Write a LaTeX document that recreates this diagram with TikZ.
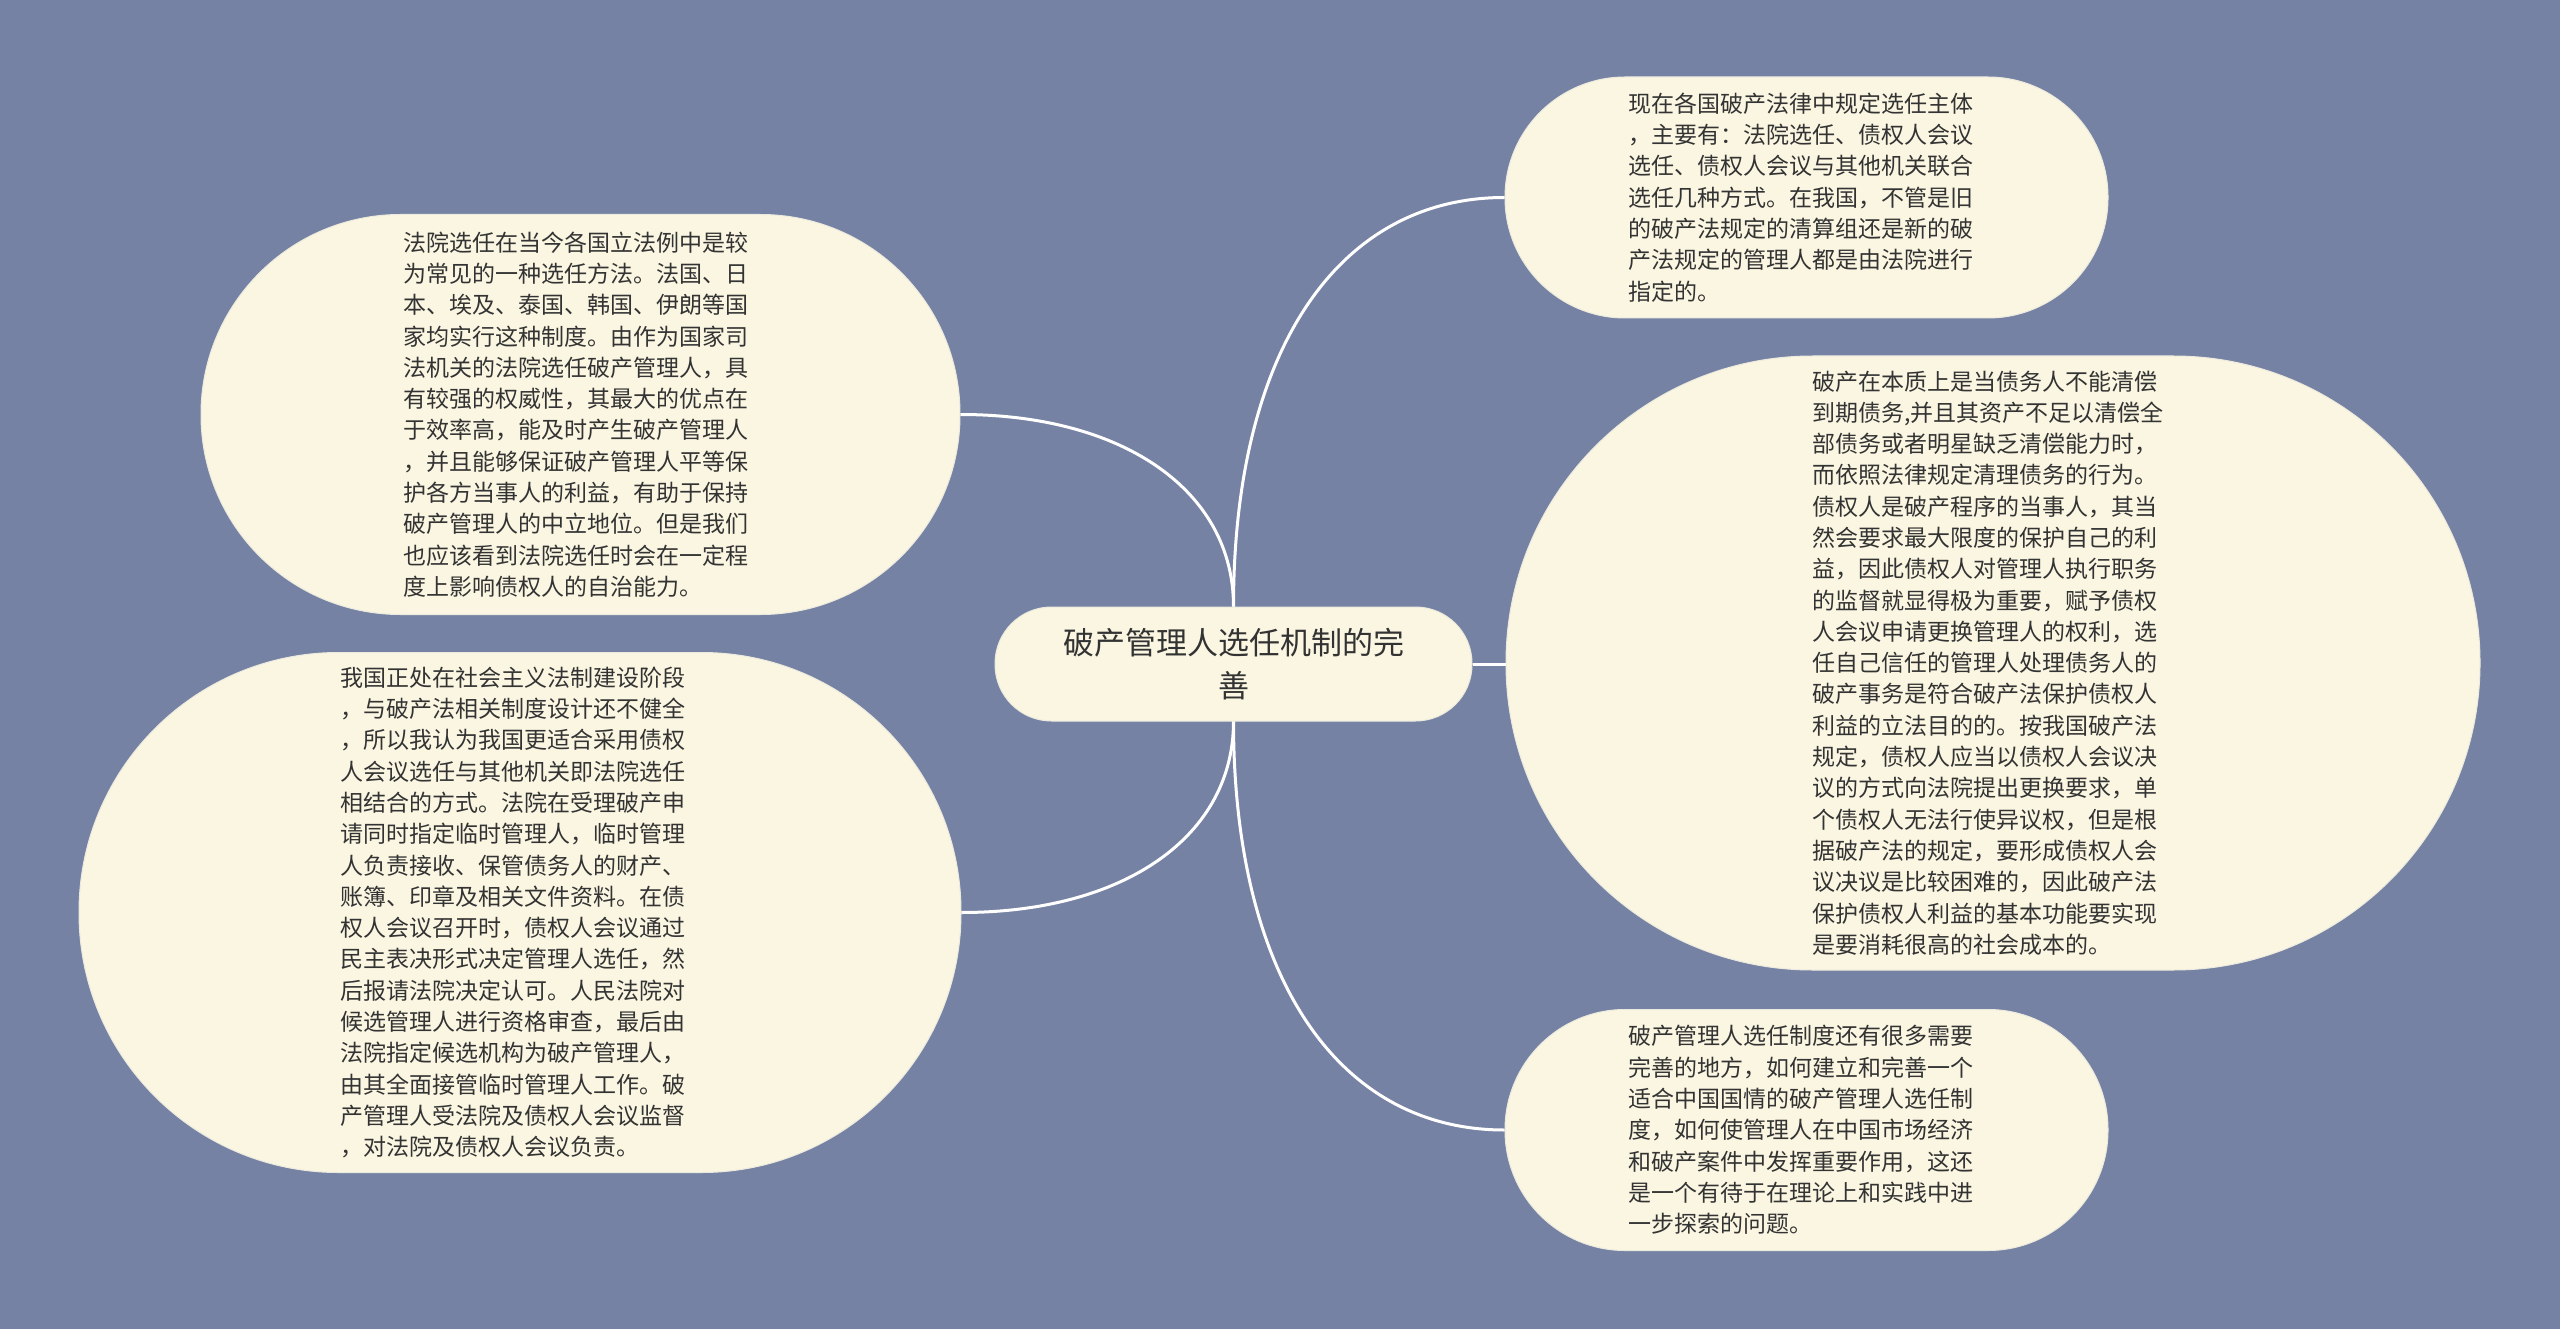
\documentclass[tikz,border=0pt]{standalone}
\usepackage{fontspec}
\setmainfont{Noto Sans CJK SC}
\usetikzlibrary{calc}
\definecolor{bgc}{RGB}{118,130,163}
\definecolor{nodefill}{RGB}{250,246,226}
\definecolor{nodeline}{RGB}{236,234,222}
\definecolor{txt}{RGB}{51,51,51}
\tikzset{
  topic/.style={draw=nodeline, line width=1pt, fill=nodefill, text=txt, inner sep=0pt, align=left,
    font=\fontsize{23}{31.3}\selectfont},
  central/.style={draw=nodeline, line width=1pt, fill=nodefill, text=txt, inner sep=0pt, align=center,
    font=\fontsize{31}{43}\selectfont, minimum width=477pt, minimum height=114pt, rounded corners=56.5pt},
  conn/.style={draw=white, line width=3pt}
}
\begin{document}
\begin{tikzpicture}[x=1pt,y=-1pt]
\fill[bgc] (0,0) rectangle (2560,1329);
\useasboundingbox (0,0) rectangle (2560,1329);

\node[central] (c) at (1233.5,664) {破产管理人选任机制的完\\善};

\node[topic, minimum width=603pt, minimum height=241pt, rounded corners=120pt] (rt) at (1806.5,197.5) {};
\node[text=txt, align=left, inner sep=0pt, font=\fontsize{23}{31.3}\selectfont] (rtt) at (1801,197.5) {现在各国破产法律中规定选任主体\\，主要有：法院选任、债权人会议\\选任、债权人会议与其他机关联合\\选任几种方式。在我国，不管是旧\\的破产法规定的清算组还是新的破\\产法规定的管理人都是由法院进行\\指定的。};

\node[topic, minimum width=974pt, minimum height=614pt, rounded corners=306.5pt] (rm) at (1993,663) {};
\node[text=txt, align=left, inner sep=0pt, font=\fontsize{23}{31.3}\selectfont] (rmt) at (1988,663) {破产在本质上是当债务人不能清偿\\到期债务,并且其资产不足以清偿全\\部债务或者明星缺乏清偿能力时，\\而依照法律规定清理债务的行为。\\债权人是破产程序的当事人，其当\\然会要求最大限度的保护自己的利\\益，因此债权人对管理人执行职务\\的监督就显得极为重要，赋予债权\\人会议申请更换管理人的权利，选\\任自己信任的管理人处理债务人的\\破产事务是符合破产法保护债权人\\利益的立法目的的。按我国破产法\\规定，债权人应当以债权人会议决\\议的方式向法院提出更换要求，单\\个债权人无法行使异议权，但是根\\据破产法的规定，要形成债权人会\\议决议是比较困难的，因此破产法\\保护债权人利益的基本功能要实现\\是要消耗很高的社会成本的。};

\node[topic, minimum width=603pt, minimum height=241pt, rounded corners=120pt] (rb) at (1806.5,1130) {};
\node[text=txt, align=left, inner sep=0pt, font=\fontsize{23}{31.3}\selectfont] (rbt) at (1801,1130) {破产管理人选任制度还有很多需要\\完善的地方，如何建立和完善一个\\适合中国国情的破产管理人选任制\\度，如何使管理人在中国市场经济\\和破产案件中发挥重要作用，这还\\是一个有待于在理论上和实践中进\\一步探索的问题。};

\node[topic, minimum width=759pt, minimum height=400pt, rounded corners=199.5pt] (lt) at (580.5,414.5) {};
\node[text=txt, align=left, inner sep=0pt, font=\fontsize{23}{31.3}\selectfont] (ltt) at (576,414.5) {法院选任在当今各国立法例中是较\\为常见的一种选任方法。法国、日\\本、埃及、泰国、韩国、伊朗等国\\家均实行这种制度。由作为国家司\\法机关的法院选任破产管理人，具\\有较强的权威性，其最大的优点在\\于效率高，能及时产生破产管理人\\，并且能够保证破产管理人平等保\\护各方当事人的利益，有助于保持\\破产管理人的中立地位。但是我们\\也应该看到法院选任时会在一定程\\度上影响债权人的自治能力。};

\node[topic, minimum width=882pt, minimum height=520pt, rounded corners=259.5pt] (lb) at (520,912.5) {};
\node[text=txt, align=left, inner sep=0pt, font=\fontsize{23}{31.3}\selectfont] (lbt) at (513,912.5) {我国正处在社会主义法制建设阶段\\，与破产法相关制度设计还不健全\\，所以我认为我国更适合采用债权\\人会议选任与其他机关即法院选任\\相结合的方式。法院在受理破产申\\请同时指定临时管理人，临时管理\\人负责接收、保管债务人的财产、\\账簿、印章及相关文件资料。在债\\权人会议召开时，债权人会议通过\\民主表决形式决定管理人选任，然\\后报请法院决定认可。人民法院对\\候选管理人进行资格审查，最后由\\法院指定候选机构为破产管理人，\\由其全面接管临时管理人工作。破\\产管理人受法院及债权人会议监督\\，对法院及债权人会议负责。};

% connectors
\coordinate (qlt) at (c.north|-lt.east);
\coordinate (qrt) at (c.north|-rt.west);
\coordinate (qlb) at (c.south|-lb.east);
\coordinate (qrb) at (c.south|-rb.west);
\draw[conn] (c.north) .. controls ($(c.north)!0.6!(qlt)$) and ($(lt.east)!0.6!(qlt)$) .. (lt.east);
\draw[conn] (c.north) .. controls ($(c.north)!0.62!(qrt)$) and ($(rt.west)!0.62!(qrt)$) .. (rt.west);
\draw[conn] (c.south) .. controls ($(c.south)!0.6!(qlb)$) and ($(lb.east)!0.6!(qlb)$) .. (lb.east);
\draw[conn] (c.south) .. controls ($(c.south)!0.62!(qrb)$) and ($(rb.west)!0.62!(qrb)$) .. (rb.west);
\draw[conn] (c.east) -- (c.east-|rm.west);
\end{tikzpicture}
\end{document}
